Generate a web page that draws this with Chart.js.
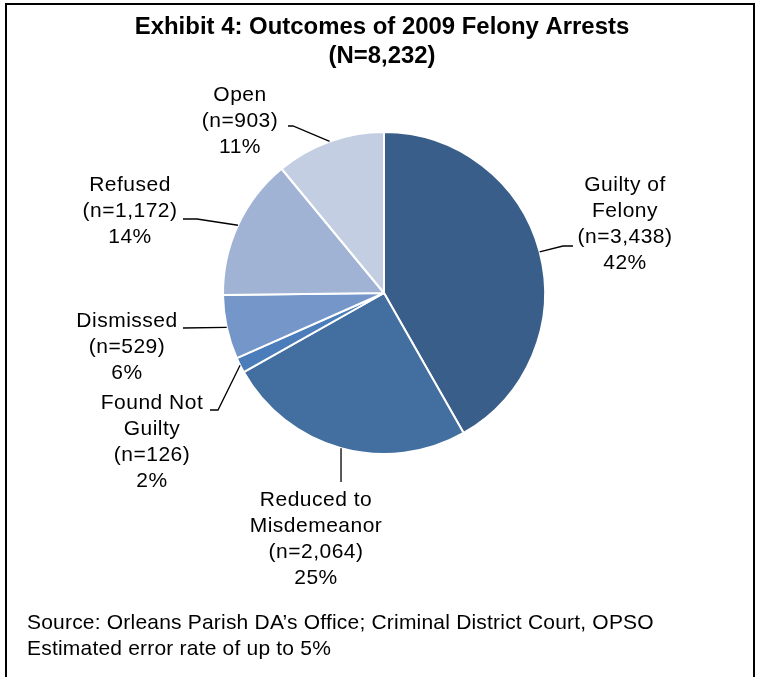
<!DOCTYPE html>
<html>
<head>
<meta charset="utf-8">
<script src="https://cdn.jsdelivr.net/npm/chart.js@4"></script>
<style>
  html, body { margin: 0; padding: 0; background: #fff; }
  canvas { display: block; }
</style>
</head>
<body>
<canvas id="outcomesChart" width="757" height="677"></canvas>
<script>
const categories = ['Guilty of\nFelony', 'Reduced to\nMisdemeanor', 'Found Not\nGuilty', 'Dismissed', 'Refused', 'Open'];
const arrests = [3438, 2064, 126, 529, 1172, 903];
const sliceColors = ['#395E8A', '#426EA0', '#4A7DB9', '#7496C8', '#A0B3D4', '#C4CEE2'];

const titleLines = ['Exhibit 4: Outcomes of 2009 Felony Arrests', '(N=8,232)'];
const sourceLines = ['Source: Orleans Parish DA\u2019s Office; Criminal District Court, OPSO', 'Estimated error rate of up to 5%'];

// where each label block sits and how its leader line bends
const labelLayout = [
    { cx: 625, top: 185, elbow: [563, 246], end: [573, 246] },
    { cx: 316, top: 500, vertical: 482 },
    { cx: 152, top: 403, elbow: [218, 410], end: [210, 410] },
    { cx: 127, top: 321, end: [183, 328] },
    { cx: 130, top: 185, elbow: [197, 219], end: [183, 219] },
    { cx: 240, top: 95, elbow: [293, 126], end: [288, 126] }
];

const total = arrests.reduce((a, b) => a + b, 0);
const FONT = '"Liberation Sans", Arial, sans-serif';

const annotatePlugin = {
    id: 'annotate',
    afterDraw(chart) {
        const ctx = chart.ctx;
        const meta = chart.getDatasetMeta(0);
        ctx.save();

        // frame
        ctx.strokeStyle = '#000';
        ctx.lineWidth = 2;
        ctx.beginPath();
        ctx.moveTo(6, 700);
        ctx.lineTo(6, 4);
        ctx.lineTo(754, 4);
        ctx.lineTo(754, 700);
        ctx.stroke();

        // title (the original is a slightly narrow bold face)
        ctx.fillStyle = '#000';
        ctx.textAlign = 'center';
        ctx.textBaseline = 'middle';
        ctx.font = 'bold 23px ' + FONT;
        titleLines.forEach((t, i) => {
            ctx.save();
            ctx.translate(382, 28 + i * 29);
            ctx.scale(1.04, 1);
            ctx.fillText(t, 0, 0);
            ctx.restore();
        });

        // slice labels + leader lines
        ctx.font = '21px ' + FONT;
        ctx.letterSpacing = '0.5px';
        meta.data.forEach((arc, i) => {
            const lay = labelLayout[i];
            const mid = (arc.startAngle + arc.endAngle) / 2;
            const sx = arc.x + Math.cos(mid) * arc.outerRadius;
            const sy = arc.y + Math.sin(mid) * arc.outerRadius;

            ctx.strokeStyle = '#000';
            ctx.lineWidth = 1.3;
            ctx.beginPath();
            ctx.moveTo(sx, sy);
            if (lay.vertical) {
                ctx.lineTo(sx, lay.vertical);
            } else {
                if (lay.elbow) ctx.lineTo(lay.elbow[0], lay.elbow[1]);
                ctx.lineTo(lay.end[0], lay.end[1]);
            }
            ctx.stroke();

            const lines = categories[i].split('\n');
            lines.push('(n=' + arrests[i].toLocaleString('en-US') + ')');
            lines.push(Math.round(arrests[i] / total * 100) + '%');
            lines.forEach((l, j) => ctx.fillText(l, lay.cx, lay.top + j * 26));
        });

        // source note
        ctx.textAlign = 'left';
        ctx.letterSpacing = '0.2px';
        ctx.font = '21px ' + FONT;
        sourceLines.forEach((t, i) => ctx.fillText(t, 27, 623 + i * 26));

        ctx.restore();
    }
};

const outcomesConfig = {
    type: 'pie',
    data: {
        labels: categories,
        datasets: [{
            data: arrests,
            backgroundColor: sliceColors,
            borderColor: '#ffffff',
            borderWidth: 2
        }]
    },
    options: {
        responsive: false,
        animation: false,
        layout: {
            padding: { left: 222, right: 211, top: 131, bottom: 222 }
        },
        plugins: {
            legend: { display: false },
            title: { display: false },
            tooltip: { enabled: false }
        }
    },
    plugins: [annotatePlugin]
};

new Chart(document.getElementById('outcomesChart').getContext('2d'), outcomesConfig);
</script>
</body>
</html>
